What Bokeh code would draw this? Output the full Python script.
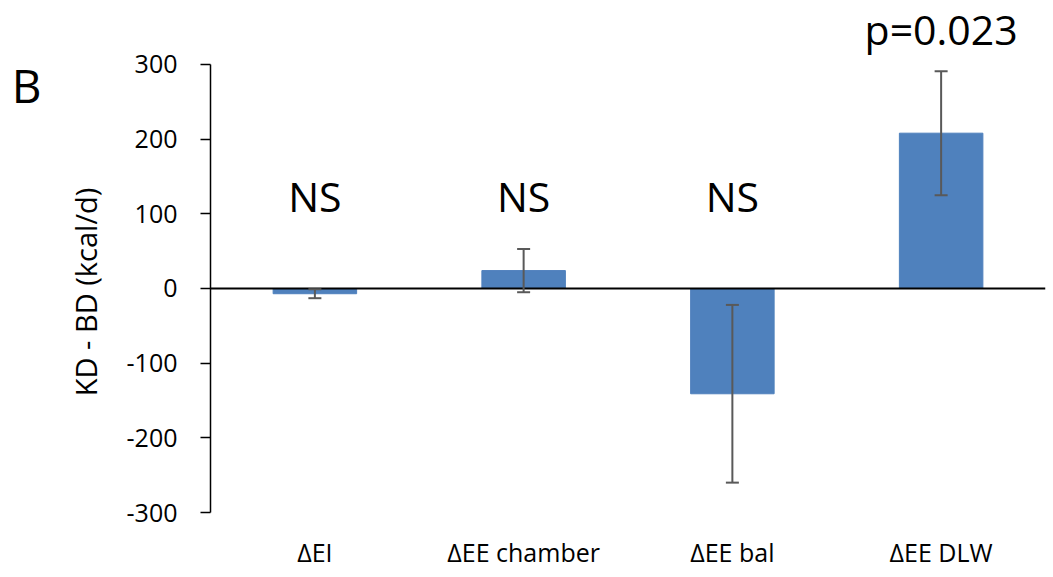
import math
from bokeh.plotting import figure
from bokeh.models import (Range1d, FactorRange, FixedTicker, Span, Whisker,
                          ColumnDataSource, TeeHead, LinearAxis)
from bokeh.core.properties import value
from bokeh.embed import file_html
from bokeh.resources import INLINE

# ---- data ----
categories = ["ΔEI", "ΔEE chamber", "ΔEE bal", "ΔEE DLW"]
diffs = [-7, 24, -141, 208]
errors = [6, 29, 119, 83]
sig_labels = ["NS", "NS", "NS", "p=0.023"]
sig_y = [124, 124, 124, 347]
y_ticks = [-300, -200, -100, 0, 100, 200, 300]
y_tick_labels = ["-300", "-200", "-100", "0", "100", "200", "300"]
y_title = "KD - BD (kcal/d)"
y_title_anchor = 135
panel_letter = "B"
panel_letter_y = 273

FONT = "Open Sans"
BAR = "#4F81BD"
ERR = "#595959"

src = ColumnDataSource(dict(
    x=categories,
    top=diffs,
    upper=[d + e for d, e in zip(diffs, errors)],
    lower=[d - e for d, e in zip(diffs, errors)],
    sig=sig_labels,
    sig_y=sig_y,
))

p = figure(width=1053, height=577,
           x_range=FactorRange(factors=categories, range_padding=0),
           y_range=Range1d(-300, 385.7),
           output_backend="svg", toolbar_location=None,
           min_border_left=210, min_border_right=8,
           min_border_top=0, min_border_bottom=65)

p.outline_line_color = None
p.xgrid.visible = False
p.ygrid.visible = False
p.background_fill_color = "white"
p.border_fill_color = "white"

p.vbar(x="x", top="top", bottom=0, width=0.4, source=src,
       fill_color=BAR, line_color=BAR)

w = Whisker(source=src, base="x", upper="upper", lower="lower",
            line_color=ERR, line_width=2,
            upper_head=TeeHead(size=13, line_color=ERR, line_width=2),
            lower_head=TeeHead(size=13, line_color=ERR, line_width=2))
w.level = "overlay"
p.add_layout(w)

p.add_layout(Span(location=0, dimension="width", line_color="black", line_width=2))

p.text(x="x", y="sig_y", text="sig", source=src,
       text_font=value(FONT), text_font_size="41px", text_color="black",
       text_align="center", text_baseline="middle")

# y axis
ya = p.yaxis[0]
ya.ticker = FixedTicker(ticks=y_ticks)
ya.major_label_overrides = {t: s for t, s in zip(y_ticks, y_tick_labels)}
ya.bounds = (-300, 300)
ya.major_tick_out = 10
ya.major_tick_in = 0
ya.minor_tick_line_color = None
ya.axis_line_color = "black"
ya.axis_line_width = 1.5
ya.major_tick_line_color = "black"
ya.major_tick_line_width = 1.5
ya.major_label_text_font = FONT
ya.major_label_text_font_size = "25px"
ya.major_label_text_color = "black"
ya.major_label_standoff = 23

def text_axis(tick, label, size, standoff, orientation="horizontal"):
    return LinearAxis(ticker=FixedTicker(ticks=[tick]),
                      major_label_overrides={tick: label},
                      axis_line_color=None, major_tick_line_color=None,
                      minor_tick_line_color=None, major_tick_out=0, major_tick_in=0,
                      major_label_standoff=standoff,
                      major_label_orientation=orientation,
                      major_label_text_font=FONT, major_label_text_font_size=size,
                      major_label_text_color="black")

# y-axis title (vertical)
p.add_layout(text_axis(y_title_anchor, y_title, "29px", 38, math.pi / 2), "left")
# panel letter
p.add_layout(text_axis(panel_letter_y, panel_letter, "46px", 2), "left")

# x axis
xa = p.xaxis[0]
xa.axis_line_color = None
xa.major_tick_line_color = None
xa.minor_tick_line_color = None
xa.major_label_text_font = FONT
xa.major_label_text_font_size = "25px"
xa.major_label_text_color = "black"
xa.major_label_standoff = 16

open("out.html", "w").write(file_html(p, INLINE))
